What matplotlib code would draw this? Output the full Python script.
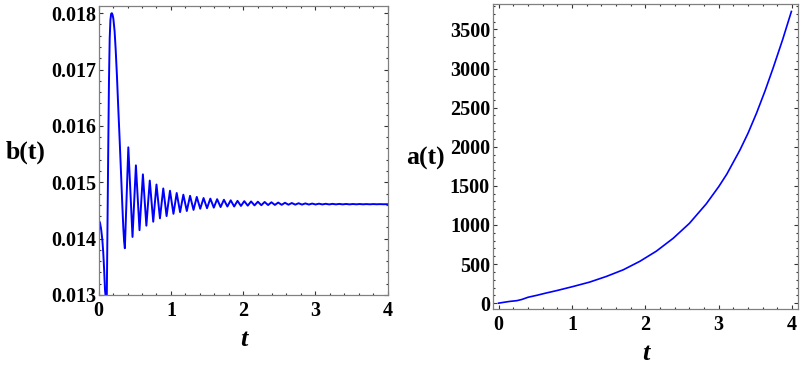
import matplotlib
matplotlib.use("Agg")
import matplotlib.pyplot as plt
from matplotlib.ticker import MultipleLocator, FormatStrFormatter

# b(t) (start, big swing, then peaks/troughs)
b_t = [0.000, 0.018, 0.035, 0.050, 0.063, 0.075, 0.087, 0.100, 0.112, 0.122,
       0.132, 0.142, 0.152, 0.162, 0.172, 0.182, 0.192, 0.203, 0.220, 0.235,
       0.252, 0.270, 0.290, 0.309, 0.325, 0.340, 0.352,
       0.362, 0.410, 0.468, 0.515, 0.565, 0.612, 0.660, 0.707, 0.755, 0.800,
       0.848, 0.894, 0.940, 0.987, 1.035, 1.080, 1.127, 1.172, 1.220, 1.265,
       1.313, 1.358, 1.406, 1.452, 1.500, 1.546, 1.594, 1.640, 1.688, 1.734,
       1.782, 1.828, 1.876, 1.922, 1.970, 2.016, 2.064, 2.110, 2.158, 2.204,
       2.252, 2.298, 2.346, 2.392, 2.440, 2.486, 2.534, 2.580, 2.628, 2.674,
       2.722, 2.768, 2.816, 2.862, 2.910, 2.956, 3.004, 3.050, 3.098, 3.144,
       3.192, 3.238, 3.286, 3.332, 3.380, 3.426, 3.474, 3.520, 3.568, 3.614,
       3.662, 3.708, 3.756, 3.802, 3.850, 3.896, 3.944, 4.000]
b_val = [0.01433, 0.01428, 0.01415, 0.01398, 0.01375, 0.01345, 0.01309, 0.01292, 0.01300, 0.01430,
         0.01560, 0.01680, 0.01755, 0.01788, 0.01799, 0.01800, 0.01797, 0.01790, 0.01768, 0.01735,
         0.01690, 0.01634, 0.01575, 0.01516, 0.01465, 0.01421, 0.01395,
         0.01383, 0.01562, 0.01403, 0.01530, 0.01415, 0.01514, 0.01423, 0.01503, 0.01430, 0.01496,
         0.01436, 0.01489, 0.01440, 0.01485, 0.01444, 0.01481, 0.01447, 0.01478, 0.01449, 0.01476,
         0.01451, 0.01474, 0.01453, 0.01472, 0.01454, 0.01471, 0.01455, 0.01470, 0.01456, 0.01469,
         0.01457, 0.01468, 0.01457, 0.01467, 0.01458, 0.014665, 0.014585, 0.01466, 0.01459, 0.014655,
         0.014593, 0.01465, 0.014596, 0.014645, 0.014598, 0.01464, 0.01460, 0.014636, 0.014602, 0.014632,
         0.014603, 0.014628, 0.014604, 0.014625, 0.014605, 0.014622, 0.014606, 0.01462, 0.014607, 0.014618,
         0.014607, 0.014617, 0.014608, 0.014616, 0.014608, 0.014615, 0.014608, 0.014614, 0.014609, 0.014614,
         0.014609, 0.014613, 0.014609, 0.014613, 0.01461, 0.014612, 0.01461, 0.014611]

# a(t)
a_t = [0.0, 0.08, 0.15, 0.25, 0.32, 0.40, 0.52, 0.65, 0.79, 1.02, 1.24, 1.47,
       1.70, 1.925, 2.15, 2.38, 2.60, 2.83, 3.00, 3.11, 3.29, 3.40, 3.515, 3.63,
       3.74, 3.87, 3.99]
a_val = [0, 12, 22, 32, 48, 75, 100, 130, 160, 214, 269, 342,
         427, 535, 665, 830, 1020, 1270, 1490, 1650, 1960, 2175, 2430, 2712,
         3004, 3368, 3730]

serif = "Liberation Serif"
blue = "#0000ff"
frame = "#808080"

fig = plt.figure(figsize=(8, 3.66), dpi=100)
ax1 = fig.add_axes([0.1234, 0.194, 0.361, 0.79])
ax2 = fig.add_axes([0.6159, 0.1557, 0.3816, 0.8333])

ax1.plot(b_t, b_val, color=blue, lw=1.4)
ax1.set_xlim(0, 4)
ax1.set_ylim(0.013, 0.01813)
ax1.xaxis.set_major_locator(MultipleLocator(1))
ax1.xaxis.set_minor_locator(MultipleLocator(0.2))
ax1.yaxis.set_major_locator(MultipleLocator(0.001))
ax1.yaxis.set_minor_locator(MultipleLocator(0.0002))
ax1.yaxis.set_major_formatter(FormatStrFormatter("%.3f"))

ax2.plot(a_t, a_val, color=blue, lw=1.2)
ax2.set_xlim(-0.08, 4.08)
ax2.set_ylim(-75, 3825)
ax2.xaxis.set_major_locator(MultipleLocator(1))
ax2.xaxis.set_minor_locator(MultipleLocator(0.2))
ax2.yaxis.set_major_locator(MultipleLocator(500))
ax2.yaxis.set_minor_locator(MultipleLocator(100))

for ax in (ax1, ax2):
    for s in ax.spines.values():
        s.set_color(frame)
        s.set_linewidth(0.9)
    ax.tick_params(which="both", direction="in", top=True, right=True,
                   color="#333333", width=0.8)
    ax.tick_params(which="major", length=3.2)
    ax.tick_params(which="minor", length=1.7)
    ax.tick_params(axis="x", pad=4)
    ax.tick_params(axis="y", pad=2)
    for lab in ax.get_xticklabels() + ax.get_yticklabels():
        lab.set_fontfamily(serif)
        lab.set_fontweight("bold")
        lab.set_fontsize(14.5)

fig.text(25.5 / 800, 1 - 152.5 / 366, "b(t)", family=serif, weight="bold",
         fontsize=18.5, ha="center", va="center")
fig.text(425.5 / 800, 1 - 158 / 366, "a(t)", family=serif, weight="bold",
         fontsize=18.5, ha="center", va="center")
fig.text(244 / 800, 1 - 340 / 366, "t", family=serif, weight="bold",
         style="italic", fontsize=19, ha="center", va="center")
fig.text(646 / 800, 1 - 354 / 366, "t", family=serif, weight="bold",
         style="italic", fontsize=19, ha="center", va="center")

fig.savefig("out.png", dpi=100)
